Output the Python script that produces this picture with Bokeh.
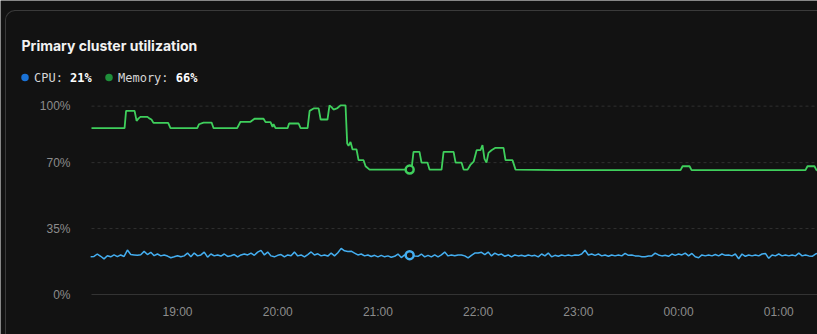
import numpy as np
from bokeh.plotting import figure
from bokeh.models import Range1d, FixedTicker, InlineStyleSheet
from bokeh.core.properties import value
from bokeh.embed import file_html
from bokeh.resources import INLINE

# ---- data (x = minutes after 18:00) ----
tick_minutes = [60, 120, 180, 240, 300, 360, 420]
tick_labels = ["19:00", "20:00", "21:00", "22:00", "23:00", "00:00", "01:00"]
y_ticks = [0, 35, 70, 100]
y_tick_labels = ["0%", "35%", "70%", "100%"]

mem_minutes = [8.5, 28.3, 29.2, 34.3, 35.5, 36.7, 37.8, 42.0, 43.1, 44.4, 45.6, 54.4, 55.8, 71.8, 72.9,
               75.6, 80.4, 81.6, 95.7, 97.7, 103.7, 106.1, 111.5, 112.7, 115.7, 116.9, 117.5, 118.7,
               125.9, 126.8, 132.5, 133.7, 137.9, 139.1, 141.5, 144.5, 145.7, 149.8, 151.0, 152.2,
               153.4, 155.8, 157.6, 160.6, 161.6, 162.4, 163.6, 164.8, 167.2, 168.4, 171.4, 172.6,
               175.0, 200.1, 201.3, 204.9, 206.1, 209.7, 210.9, 218.1, 219.3, 225.3, 226.5, 230.1,
               231.3, 233.7, 235.5, 237.3, 239.1, 241.4, 242.6, 243.8, 245.0, 246.2, 248.0, 250.4,
               255.2, 256.4, 260.6, 262.4, 287.5, 361.2, 362.4, 366.6, 367.8, 436.0, 437.2, 441.4,
               442.6, 444.0]
mem_values = [88.3, 88.3, 97.5, 97.5, 92.2, 93.5, 94.3, 94.3, 93.5, 92.9, 91.1, 91.1, 88.3, 88.3, 90.4,
              91.3, 91.3, 88.3, 88.3, 91.7, 91.7, 93.3, 93.3, 91.5, 91.5, 89.0, 90.5, 88.3,
              88.3, 90.8, 90.8, 88.3, 88.3, 97.5, 98.8, 98.8, 92.9, 92.9, 100.4, 99.5,
              98.2, 99.0, 100.4, 100.4, 80.1, 79.0, 81.0, 77.0, 77.0, 71.3, 71.3, 68.1,
              66.3, 66.3, 75.7, 75.7, 70.0, 70.0, 66.3, 66.3, 75.7, 75.7, 70.0, 70.0,
              66.3, 66.3, 69.0, 70.5, 76.6, 76.6, 79.3, 72.0, 70.0, 75.2, 76.6, 77.9,
              77.9, 71.3, 71.3, 66.3, 66.0, 66.0, 68.1, 68.1, 66.0, 66.0, 68.1, 68.1,
              66.0, 65.5]

cpu_first_minute = 8
cpu_step_minutes = 2
cpu_values = [
    20.0, 20.2, 21.5, 20.3, 18.9, 20.6, 20.0, 21.0, 20.1, 21.0,
    20.2, 23.6, 21.2, 21.0, 20.8, 21.1, 22.9, 21.2, 22.4, 20.6,
    21.5, 20.5, 21.0, 20.4, 19.5, 20.0, 20.6, 20.0, 20.5, 22.0,
    20.1, 22.0, 20.5, 21.0, 22.5, 19.8, 21.5, 20.5, 21.0, 20.4,
    21.5, 20.2, 20.6, 21.2, 20.0, 21.0, 21.5, 21.0, 22.0, 20.8,
    22.5, 23.4, 21.0, 22.5, 20.5,
    20.0, 20.8, 21.2, 20.0, 21.0, 20.6, 22.5, 20.5, 21.0, 20.0,
    21.2, 22.6, 21.0, 21.6, 20.5, 21.0, 20.4, 22.0, 20.5, 22.2,
    24.5, 23.2, 22.8, 23.0, 22.0, 21.0, 21.5, 20.5, 21.0, 20.2,
    20.8, 20.0, 20.8, 20.0, 20.5, 19.8, 20.3, 21.5, 19.6, 21.0,
    20.8, 21.0, 20.5, 20.3, 21.5, 20.0, 20.8, 20.0, 21.0, 20.0,
    21.0, 22.5, 20.5, 21.0,
    20.6, 21.0, 21.0, 20.5, 19.4, 20.8, 22.0, 22.0, 22.4, 21.2,
    22.5, 20.5, 22.0, 21.0, 21.5, 20.3, 21.0, 20.0, 21.0, 20.5,
    20.8, 20.3, 21.0, 20.5, 20.8, 20.0, 21.5, 20.5, 22.0, 20.0,
    20.8, 20.3, 21.0, 20.5, 21.0, 20.5, 21.0, 20.8, 21.5, 23.5,
    21.0, 21.5, 20.8, 21.5, 20.5, 21.0, 20.3, 21.0, 20.5, 21.0,
    20.5, 21.8, 20.8, 21.0, 20.5,
    20.5, 20.0, 20.0, 20.4, 20.5, 22.0, 21.0, 20.5, 20.8, 20.3,
    21.5, 20.8, 21.5, 21.0, 22.0, 20.5, 21.8, 20.0, 19.5, 21.0,
    20.5, 21.0, 20.5, 21.2, 20.5, 21.5, 20.8, 21.0, 20.5, 21.5,
    19.0, 21.5, 20.3, 21.0, 20.5, 21.0, 20.5, 21.5, 21.8, 19.2,
    21.0, 20.5, 21.5, 20.5, 21.0, 20.5, 21.0, 20.5, 22.0, 20.5,
    21.0, 20.5, 20.3, 21.5, 22.0,
]
hover_minute = 199
series_names = ["CPU", "Memory"]

cpu_minutes = [cpu_first_minute + cpu_step_minutes * i for i in range(len(cpu_values))]
assert len(mem_minutes) == len(mem_values)

# domain of the plotted window
X_START, X_END = 8.5, 443.2
Y_TOP = 103

BG = "#121212"
MEM_LINE = "#3fcf5c"
CPU_LINE = "#44aef0"
MEM_DOT = "#1f8f3a"
CPU_DOT = "#1a72d6"

# ---- geometry: the frame fills the whole canvas; data window sits inside it ----
FW, FH = 817, 334
PLOT_L, PLOT_B, PLOT_T = 91, 294, 100
px_per_min = (FW - PLOT_L) / (X_END - X_START)
px_per_pct = (PLOT_B - PLOT_T) / Y_TOP
rx0 = X_START - PLOT_L / px_per_min
rx1 = rx0 + FW / px_per_min
ry0 = -(FH - PLOT_B) / px_per_pct
ry1 = ry0 + FH / px_per_pct


def at(xp, yp):
    """canvas pixel -> data coordinates (for header texts only)"""
    return rx0 + xp / px_per_min, ry0 + (FH - yp) / px_per_pct


card_css = InlineStyleSheet(css="""
:host { position: relative; overflow: hidden; }
:host::before {
  content: ""; position: absolute; left: 14px; top: 10px; width: 3000px; height: 0;
  border-top: 1px solid #3a3a3a; pointer-events: none; z-index: 10;
}
:host::after {
  content: ""; position: absolute; left: 5px; top: 10px; width: 14px; height: 3000px;
  border-top: 1px solid #3a3a3a; border-left: 1px solid #3a3a3a;
  border-top-left-radius: 10px; pointer-events: none; z-index: 10;
}
""")

p = figure(width=FW, height=FH, output_backend="svg", toolbar_location=None,
           x_range=Range1d(rx0, rx1), y_range=Range1d(ry0, ry1), min_border=0)
p.stylesheets = [card_css]
p.background_fill_color = BG
p.border_fill_color = BG
p.outline_line_color = None
p.xgrid.visible = False
p.ygrid.visible = False

# axes fixed at the data window's edges
xa = p.xaxis[0]
xa.fixed_location = 0
xa.bounds = (X_START, X_END)
xa.ticker = FixedTicker(ticks=tick_minutes)
xa.major_label_overrides = dict(zip(tick_minutes, tick_labels))
xa.axis_line_color = "#333333"
xa.major_tick_line_color = None
xa.minor_tick_line_color = None
xa.major_tick_out = 0
xa.major_label_standoff = 10
xa.major_label_text_color = "#8c8c8c"
xa.major_label_text_font = "Liberation Sans"
xa.major_label_text_font_size = "12px"

ya = p.yaxis[0]
ya.fixed_location = X_START
ya.bounds = (0, 100)
ya.ticker = FixedTicker(ticks=y_ticks)
ya.major_label_overrides = dict(zip(y_ticks, y_tick_labels))
ya.axis_line_color = None
ya.major_tick_line_color = None
ya.minor_tick_line_color = None
ya.major_tick_out = 0
ya.major_label_standoff = 21
ya.major_label_text_color = "#8c8c8c"
ya.major_label_text_font = "Liberation Sans"
ya.major_label_text_font_size = "12px"

# dashed horizontal grid lines at the non-zero ticks
gy = [t for t in y_ticks if t > 0]
p.segment(x0=[X_START] * len(gy), x1=[X_END] * len(gy), y0=gy, y1=gy,
          line_color="#303030", line_width=1, line_dash="3 3")

# series
p.line(mem_minutes, mem_values, line_color=MEM_LINE, line_width=1.8)
p.line(cpu_minutes, cpu_values, line_color=CPU_LINE, line_width=1.5)

mem_h = float(np.interp(hover_minute, mem_minutes, mem_values))
cpu_h = float(np.interp(hover_minute, cpu_minutes, cpu_values))
p.scatter([hover_minute], [mem_h], size=8, fill_color=BG, line_color=MEM_LINE, line_width=2.5)
p.scatter([hover_minute], [cpu_h], size=8, fill_color=BG, line_color=CPU_LINE, line_width=2.5)

# header: title
tx, ty = at(21, 45)
p.text(x=[tx], y=[ty], text=["Primary cluster utilization"], text_font=value("Inter"),
       text_font_size="14px", text_font_style="bold", text_color="#f2f2f2",
       text_baseline="alphabetic")

# header: legend
CH = 7.22  # DejaVu Sans Mono advance at 12px
mono = value("DejaVu Sans Mono")
dot_px = [24.5, 108.5]
dot_colors = [CPU_DOT, MEM_DOT]
legend_vals = [f"{round(cpu_h)}%", f"{round(mem_h)}%"]
dots = [at(d, 77) for d in dot_px]
p.scatter(x=[d[0] for d in dots], y=[d[1] for d in dots], size=7.5,
          fill_color=dot_colors, line_color=None)
for dpx, name, val in zip(dot_px, series_names, legend_vals):
    label = f"{name}: "
    lx, ly = at(dpx + 9, 77)
    vx, _ = at(dpx + 9 + CH * len(label), 77)
    p.text(x=[lx], y=[ly], text=[label], text_font=mono, text_font_size="12px",
           text_color="#d6d6d6", text_baseline="middle")
    p.text(x=[vx], y=[ly], text=[val], text_font=mono, text_font_size="12px",
           text_font_style="bold", text_color="#ffffff", text_baseline="middle")

open("out.html", "w").write(file_html(p, INLINE))
